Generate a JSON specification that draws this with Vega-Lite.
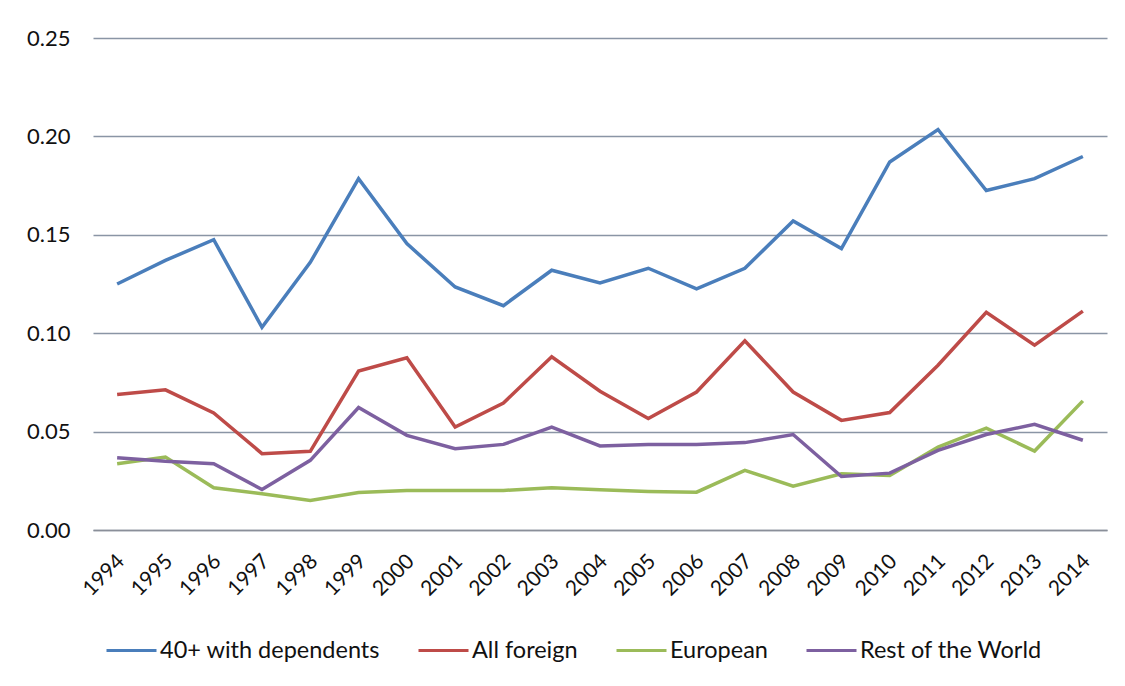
{
  "$schema": "https://vega.github.io/schema/vega-lite/v6.json",
  "width": 1014,
  "height": 492,
  "autosize": {"type": "none"},
  "padding": {"left": 93, "top": 38, "right": 18, "bottom": 156},
  "background": "white",
  "config": {
    "font": "Lato",
    "view": {"stroke": null},
    "axis": {"labelFont": "Lato", "labelColor": "#111111"},
    "legend": {"labelFont": "Lato", "labelColor": "#111111"}
  },
  "data": {
    "values": [
      {"year": "1994", "series": "40+ with dependents", "value": 0.125},
      {"year": "1995", "series": "40+ with dependents", "value": 0.137},
      {"year": "1996", "series": "40+ with dependents", "value": 0.1475},
      {"year": "1997", "series": "40+ with dependents", "value": 0.103},
      {"year": "1998", "series": "40+ with dependents", "value": 0.136},
      {"year": "1999", "series": "40+ with dependents", "value": 0.1785},
      {"year": "2000", "series": "40+ with dependents", "value": 0.1455},
      {"year": "2001", "series": "40+ with dependents", "value": 0.1235},
      {"year": "2002", "series": "40+ with dependents", "value": 0.114},
      {"year": "2003", "series": "40+ with dependents", "value": 0.132},
      {"year": "2004", "series": "40+ with dependents", "value": 0.1255},
      {"year": "2005", "series": "40+ with dependents", "value": 0.133},
      {"year": "2006", "series": "40+ with dependents", "value": 0.1225},
      {"year": "2007", "series": "40+ with dependents", "value": 0.133},
      {"year": "2008", "series": "40+ with dependents", "value": 0.157},
      {"year": "2009", "series": "40+ with dependents", "value": 0.143},
      {"year": "2010", "series": "40+ with dependents", "value": 0.187},
      {"year": "2011", "series": "40+ with dependents", "value": 0.2035},
      {"year": "2012", "series": "40+ with dependents", "value": 0.1725},
      {"year": "2013", "series": "40+ with dependents", "value": 0.1785},
      {"year": "2014", "series": "40+ with dependents", "value": 0.1898},
      {"year": "1994", "series": "All foreign", "value": 0.0688},
      {"year": "1995", "series": "All foreign", "value": 0.0712},
      {"year": "1996", "series": "All foreign", "value": 0.0595},
      {"year": "1997", "series": "All foreign", "value": 0.0388},
      {"year": "1998", "series": "All foreign", "value": 0.0400},
      {"year": "1999", "series": "All foreign", "value": 0.0808},
      {"year": "2000", "series": "All foreign", "value": 0.0875},
      {"year": "2001", "series": "All foreign", "value": 0.0523},
      {"year": "2002", "series": "All foreign", "value": 0.0645},
      {"year": "2003", "series": "All foreign", "value": 0.0880},
      {"year": "2004", "series": "All foreign", "value": 0.0705},
      {"year": "2005", "series": "All foreign", "value": 0.0566},
      {"year": "2006", "series": "All foreign", "value": 0.0701},
      {"year": "2007", "series": "All foreign", "value": 0.0961},
      {"year": "2008", "series": "All foreign", "value": 0.0701},
      {"year": "2009", "series": "All foreign", "value": 0.0557},
      {"year": "2010", "series": "All foreign", "value": 0.0597},
      {"year": "2011", "series": "All foreign", "value": 0.0837},
      {"year": "2012", "series": "All foreign", "value": 0.1106},
      {"year": "2013", "series": "All foreign", "value": 0.0939},
      {"year": "2014", "series": "All foreign", "value": 0.1112},
      {"year": "1994", "series": "European", "value": 0.0337},
      {"year": "1995", "series": "European", "value": 0.0371},
      {"year": "1996", "series": "European", "value": 0.0215},
      {"year": "1997", "series": "European", "value": 0.0184},
      {"year": "1998", "series": "European", "value": 0.0150},
      {"year": "1999", "series": "European", "value": 0.0191},
      {"year": "2000", "series": "European", "value": 0.0201},
      {"year": "2001", "series": "European", "value": 0.0201},
      {"year": "2002", "series": "European", "value": 0.0201},
      {"year": "2003", "series": "European", "value": 0.0215},
      {"year": "2004", "series": "European", "value": 0.0205},
      {"year": "2005", "series": "European", "value": 0.0196},
      {"year": "2006", "series": "European", "value": 0.0192},
      {"year": "2007", "series": "European", "value": 0.0303},
      {"year": "2008", "series": "European", "value": 0.0223},
      {"year": "2009", "series": "European", "value": 0.0286},
      {"year": "2010", "series": "European", "value": 0.0277},
      {"year": "2011", "series": "European", "value": 0.0421},
      {"year": "2012", "series": "European", "value": 0.0518},
      {"year": "2013", "series": "European", "value": 0.0401},
      {"year": "2014", "series": "European", "value": 0.0656},
      {"year": "1994", "series": "Rest of the World", "value": 0.0367},
      {"year": "1995", "series": "Rest of the World", "value": 0.0349},
      {"year": "1996", "series": "Rest of the World", "value": 0.0337},
      {"year": "1997", "series": "Rest of the World", "value": 0.0206},
      {"year": "1998", "series": "Rest of the World", "value": 0.0354},
      {"year": "1999", "series": "Rest of the World", "value": 0.0622},
      {"year": "2000", "series": "Rest of the World", "value": 0.0481},
      {"year": "2001", "series": "Rest of the World", "value": 0.0413},
      {"year": "2002", "series": "Rest of the World", "value": 0.0435},
      {"year": "2003", "series": "Rest of the World", "value": 0.0523},
      {"year": "2004", "series": "Rest of the World", "value": 0.0427},
      {"year": "2005", "series": "Rest of the World", "value": 0.0435},
      {"year": "2006", "series": "Rest of the World", "value": 0.0435},
      {"year": "2007", "series": "Rest of the World", "value": 0.0444},
      {"year": "2008", "series": "Rest of the World", "value": 0.0485},
      {"year": "2009", "series": "Rest of the World", "value": 0.0272},
      {"year": "2010", "series": "Rest of the World", "value": 0.0289},
      {"year": "2011", "series": "Rest of the World", "value": 0.0405},
      {"year": "2012", "series": "Rest of the World", "value": 0.0485},
      {"year": "2013", "series": "Rest of the World", "value": 0.0537},
      {"year": "2014", "series": "Rest of the World", "value": 0.0456}
    ]
  },
  "mark": {"type": "line", "strokeWidth": 3.5, "strokeJoin": "miter"},
  "encoding": {
    "x": {
      "field": "year",
      "type": "ordinal",
      "scale": {"type": "point", "padding": 0.5},
      "axis": {
        "title": null,
        "labelAngle": -45,
        "labelFontSize": 21,
        "labelPadding": 20,
        "labelOffset": -4,
        "ticks": false,
        "domain": true,
        "domainColor": "#8a8f99",
        "domainWidth": 1.5,
        "grid": false
      }
    },
    "y": {
      "field": "value",
      "type": "quantitative",
      "scale": {"domain": [0, 0.25], "nice": false, "zero": true},
      "axis": {
        "title": null,
        "values": [0, 0.05, 0.1, 0.15, 0.2, 0.25],
        "format": ".2f",
        "labelFontSize": 22,
        "labelPadding": 23,
        "ticks": false,
        "domain": false,
        "grid": true,
        "gridColor": "#8a95a5",
        "gridWidth": 1.5
      }
    },
    "color": {
      "field": "series",
      "type": "nominal",
      "scale": {
        "domain": ["40+ with dependents", "All foreign", "European", "Rest of the World"],
        "range": ["#4a7ebb", "#be4b48", "#9bbb59", "#7d60a0"]
      },
      "legend": {
        "title": null,
        "orient": "none",
        "legendX": 12,
        "legendY": 586,
        "direction": "horizontal",
        "symbolType": "stroke",
        "symbolSize": 2500,
        "symbolStrokeWidth": 3,
        "labelFontSize": 23.5,
        "labelLimit": 400,
        "labelOffset": 2,
        "columnPadding": 32
      }
    }
  }
}
